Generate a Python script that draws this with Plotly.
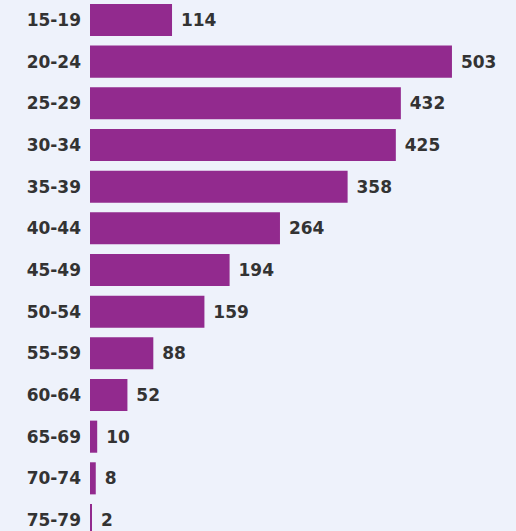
import plotly.graph_objects as go

categories = ["15-19", "20-24", "25-29", "30-34", "35-39", "40-44", "45-49",
              "50-54", "55-59", "60-64", "65-69", "70-74", "75-79"]
values = [114, 503, 432, 425, 358, 264, 194, 159, 88, 52, 10, 8, 2]

FONT = "DejaVu Sans, Verdana, sans-serif"

fig = go.Figure(go.Bar(
    x=values,
    y=list(range(len(categories))),
    orientation="h",
    marker=dict(color="#922a8e", line=dict(width=0)),
    text=[str(v) for v in values],
    textposition="outside",
    texttemplate=" %{text}",
    textfont=dict(family=FONT, size=17, color="#333333", weight="bold"),
    cliponaxis=False,
    width=0.77,
    hoverinfo="skip",
))

fig.update_layout(
    width=516, height=531,
    margin=dict(l=90, r=0, t=0, b=0, autoexpand=False),
    paper_bgcolor="#eef2fb",
    plot_bgcolor="#eef2fb",
    showlegend=False,
    font=dict(family=FONT, size=17, color="#333333"),
    xaxis=dict(range=[0, 592], visible=False, showgrid=False, zeroline=False),
    yaxis=dict(
        range=[12.264, -0.48],
        tickmode="array",
        tickvals=list(range(len(categories))),
        ticktext=categories,
        showgrid=False, zeroline=False, showline=False,
        ticks="", ticklabelstandoff=8, automargin=False,
        tickfont=dict(family=FONT, size=17, color="#333333", weight="bold"),
    ),
)

fig.write_html(
    "out.html",
    config={"displayModeBar": False},
    post_script="document.body.style.margin='0';document.body.style.overflow='hidden';",
)
